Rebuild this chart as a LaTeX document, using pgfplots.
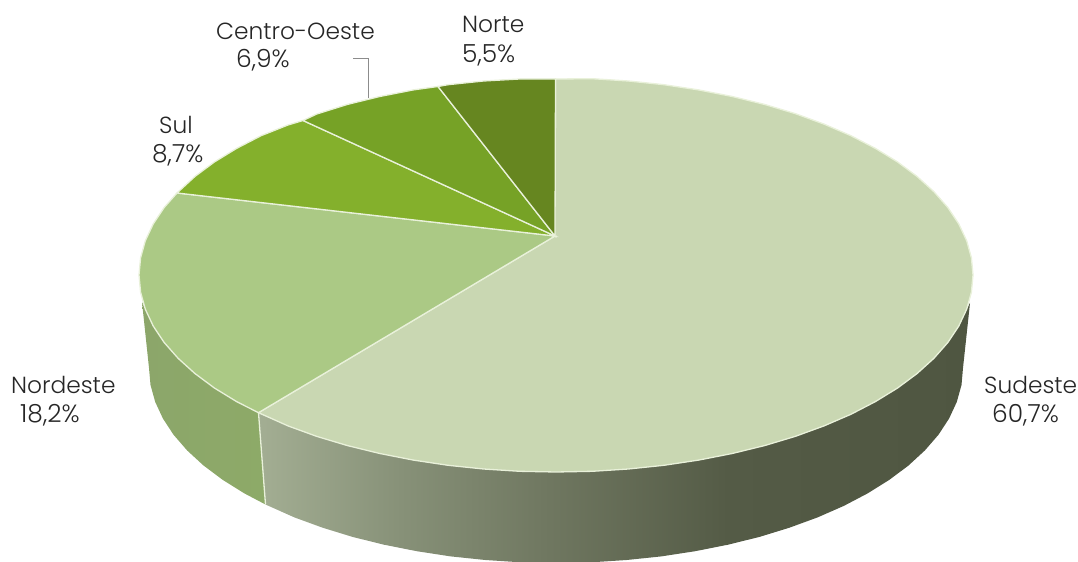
\documentclass[border=0pt]{standalone}
\usepackage{pgfplots}
\pgfplotsset{compat=1.18}
\usepackage{fontspec}
\setmainfont{Poppins Light}
\definecolor{cSudeste}{HTML}{C9D7B2}
\definecolor{cNordeste}{HTML}{ABC985}
\definecolor{cSul}{HTML}{84B02C}
\definecolor{cCentro}{HTML}{76A226}
\definecolor{cNorte}{HTML}{668620}
\definecolor{cRim}{HTML}{E9F1DA}
\definecolor{wallA}{HTML}{A3AE93}
\definecolor{wallB}{HTML}{879178}
\definecolor{wallC}{HTML}{707861}
\definecolor{wallD}{HTML}{545B46}
\definecolor{wallE}{HTML}{4F5641}
\definecolor{wallF}{HTML}{8CA66A}
\definecolor{wallG}{HTML}{8DAA68}
% Side walls of the pie: light to dark, left to right
\pgfdeclarehorizontalshading{sudesteSide}{100bp}{
  color(0bp)=(wallA);
  color(25bp)=(wallA);
  color(35bp)=(wallB);
  color(45bp)=(wallC);
  color(58bp)=(wallD);
  color(75bp)=(wallE);
  color(100bp)=(wallE)}
\pgfdeclarehorizontalshading{nordesteSide}{100bp}{
  color(0bp)=(wallF);
  color(25bp)=(wallF);
  color(75bp)=(wallG);
  color(100bp)=(wallG)}
\begin{document}
\begin{tikzpicture}
\begin{axis}[
  x=1bp, y=1bp, y dir=reverse,
  xmin=0, xmax=1078, ymin=0, ymax=562,
  hide axis, scale only axis,
  every axis plot/.append style={forget plot},
]
% Reserve the full drawing area
\path (rel axis cs:0,0) rectangle (rel axis cs:1,1);
% Sudeste wall
\addplot[draw=none, shading=sudesteSide] coordinates {
 (970,303) (966.7,309.2) (958.8,326) (947.9,342.4) (933.9,358.3) (917.1,373.5) (897.6,388) (875.4,401.6) (850.9,414.3) (824,425.9) (795.2,436.4) (764.5,445.6) (732.2,453.5) (698.6,460.1) (663.9,465.3) (628.4,469) (592.3,471.3) (556,472) (519.7,471.3) (483.6,469) (448.1,465.3) (413.4,460.1) (379.8,453.5) (347.5,445.6) (316.8,436.4) (288,425.9) (258.5,412.7)
 (265.5,504.5) (294.4,517.4) (322.6,527.7) (352.5,536.9) (384,544.7) (416.8,551.2) (450.7,556.4) (485.3,560) (520.5,562.3) (556,563) (591.5,562.3) (626.7,560) (661.3,556.4) (695.2,551.2) (728,544.7) (759.5,536.9) (789.4,527.7) (817.6,517.4) (843.8,505.9) (867.8,493.3) (889.4,479.8) (908.5,465.5) (924.9,450.4) (938.5,434.7) (949.1,418.5) (956.8,401.9) (961.5,385) (963,368)
} --cycle;
% Nordeste wall
\addplot[draw=none, shading=nordesteSide] coordinates {
 (258.5,412.7) (236.6,401.6) (214.4,388) (194.9,373.5) (178.1,358.3) (164.1,342.4) (153.2,326) (145.3,309.2) (142,302)
 (149,368) (150.5,385) (155.2,401.9) (162.9,418.5) (173.5,434.7) (187.1,450.4) (203.5,465.5) (222.6,479.8) (244.2,493.3) (265.5,504.5)
} --cycle;
% Seam between the two walls
\addplot[draw=cRim, line width=1.3bp] coordinates {(258.5,412.7) (265.5,504.5)};
% Top face slices
\addplot[fill=cSudeste, draw=cRim, line width=1.3bp] coordinates {
 (555,236) (555.5,79) (592.3,78.7) (628.4,81) (663.9,84.7) (698.6,89.9) (732.2,96.5) (764.5,104.4) (795.2,113.6) (824,124.1) (850.9,135.7) (875.4,148.4) (897.6,162) (917.1,176.5) (933.9,191.7) (947.9,207.6) (958.8,224) (966.7,240.8) (971.4,257.8) (973,275) (971.4,292.2) (966.7,309.2) (958.8,326) (947.9,342.4) (933.9,358.3) (917.1,373.5) (897.6,388) (875.4,401.6) (850.9,414.3) (824,425.9) (795.2,436.4) (764.5,445.6) (732.2,453.5) (698.6,460.1) (663.9,465.3) (628.4,469) (592.3,471.3) (556,472) (519.7,471.3) (483.6,469) (448.1,465.3) (413.4,460.1) (379.8,453.5) (347.5,445.6) (316.8,436.4) (288,425.9) (258.5,412.7)
} --cycle;
\addplot[fill=cNordeste, draw=cRim, line width=1.3bp] coordinates {
 (555,236) (258.5,412.7) (236.6,401.6) (214.4,388) (194.9,373.5) (178.1,358.3) (164.1,342.4) (153.2,326) (145.3,309.2) (140.6,292.2) (139,275) (140.6,257.8) (145.3,240.8) (153.2,224) (164.1,207.6) (177,193)
} --cycle;
\addplot[fill=cSul, draw=cRim, line width=1.3bp] coordinates {
 (555,236) (177,193) (194.9,176.5) (214.4,162) (236.6,148.4) (261.1,135.7) (288,125) (303,120.5)
} --cycle;
\addplot[fill=cCentro, draw=cRim, line width=1.3bp] coordinates {
 (555,236) (303,120.5) (316.8,114) (347.5,104.4) (379.8,96.5) (413.4,89.9) (438,86.5)
} --cycle;
\addplot[fill=cNorte, draw=cRim, line width=1.3bp] coordinates {
 (555,236) (438,86.5) (448.1,84.7) (483.6,81) (519.7,79) (555.5,79)
} --cycle;
% Leader line for the Centro-Oeste label
\addplot[draw=black!45, line width=0.9bp] coordinates {(353,58) (368,58) (368,98)};
% Category labels with their shares
\begin{scope}[every node/.style={anchor=west, inner sep=0pt, text=black!85, font=\fontsize{23.4}{26}\selectfont}]
\node at (axis cs:216,31) {Centro-Oeste};
\node[font=\fontsize{25}{28}\selectfont] at (axis cs:236,60) {6,9\%};
\node at (axis cs:159,125) {Sul};
\node[font=\fontsize{25}{28}\selectfont] at (axis cs:152,155) {8,7\%};
\node at (axis cs:462,24) {Norte};
\node[font=\fontsize{25}{28}\selectfont] at (axis cs:462,55) {5,5\%};
\node at (axis cs:11,385) {Nordeste};
\node[font=\fontsize{25}{28}\selectfont] at (axis cs:20,415) {18,2\%};
\node at (axis cs:984,385) {Sudeste};
\node[font=\fontsize{25}{28}\selectfont] at (axis cs:992,415) {60,7\%};
\end{scope}
\end{axis}
\end{tikzpicture}
\end{document}
